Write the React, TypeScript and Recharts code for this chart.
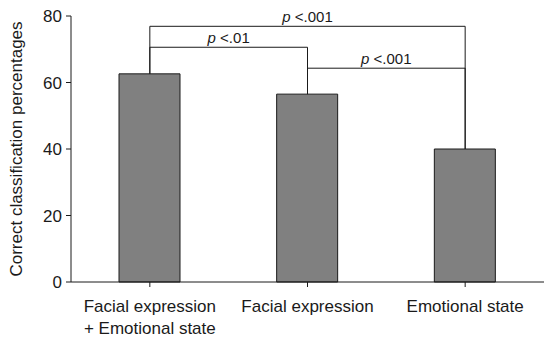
import { BarChart, Bar, XAxis, YAxis, ReferenceLine, Label } from "recharts";

const categories = ["Facial expression\n+ Emotional state", "Facial expression", "Emotional state"];
const percentages = [62.6, 56.5, 40.0];
const yTicks = [0, 20, 40, 60, 80];

// significance brackets: which bars they join, how high, and the p value
const bracketFrom = [0, 0, 1];
const bracketTo = [2, 1, 2];
const bracketLevel = [76.9, 70.6, 64.3];
const bracketText = ["<.001", "<.01", "<.001"];

const data = categories.map((name, i) => ({ name, value: percentages[i] }));

const FONT = "'Liberation Sans', Arial, sans-serif";
const INK = "#1a1a1a";

const CategoryTick = ({ x, y, payload }: any) => {
    const lines = String(payload.value).split("\n");
    return (
        <text x={x} y={y} textAnchor="middle" fontSize={17} fill={INK} fontFamily={FONT}>
            {lines.map((l, i) => (
                <tspan key={i} x={x} dy={i === 0 ? 11 : 21.5}>
                    {l}
                </tspan>
            ))}
        </text>
    );
};

const PLabel = ({ viewBox, text }: any) => {
    const vb = viewBox || {};
    const cx = vb.x1 !== undefined ? (vb.x1 + vb.x2) / 2 : vb.x + vb.width / 2;
    const y = vb.y1 !== undefined ? Math.min(vb.y1, vb.y2) : vb.y;
    return (
        <text x={cx} y={y - 4.5} textAnchor="middle" fontSize={15} fill={INK} fontFamily={FONT}>
            <tspan fontStyle="italic">p</tspan>
            <tspan> {text}</tspan>
        </text>
    );
};

const YTitle = ({ viewBox }: any) => {
    const cy = viewBox.y + viewBox.height / 2;
    const x = 22;
    return (
        <text
            x={x}
            y={cy}
            transform={`rotate(-90, ${x}, ${cy})`}
            textAnchor="middle"
            fontSize={17}
            fill={INK}
            fontFamily={FONT}
        >
            Correct classification percentages
        </text>
    );
};

export default function App() {
    return (
        <div style={{ position: "absolute", left: 0, top: 0, background: "#fff" }}>
            <BarChart
                width={544}
                height={338}
                data={data}
                margin={{ top: 16, right: 0, left: 0, bottom: 0 }}
            >
                <XAxis
                    dataKey="name"
                    height={56}
                    tick={<CategoryTick />}
                    tickSize={5}
                    tickMargin={14}
                    interval={0}
                    stroke={INK}
                />
                <YAxis
                    width={71}
                    domain={[0, 80]}
                    ticks={yTicks}
                    tickSize={5}
                    tickMargin={4}
                    stroke={INK}
                    tick={{ fill: INK, fontSize: 17, fontFamily: FONT }}
                >
                    <Label content={<YTitle />} />
                </YAxis>
                <Bar
                    dataKey="value"
                    fill="#808080"
                    stroke={INK}
                    strokeWidth={1}
                    barSize={61}
                    isAnimationActive={false}
                />
                {bracketLevel.map((level, i) => {
                    const a = categories[bracketFrom[i]];
                    const b = categories[bracketTo[i]];
                    return [
                        <ReferenceLine
                            key={`top${i}`}
                            segment={[{ x: a, y: level }, { x: b, y: level }]}
                            stroke={INK}
                            strokeWidth={1}
                            label={<PLabel text={bracketText[i]} />}
                        />,
                        <ReferenceLine
                            key={`l${i}`}
                            segment={[{ x: a, y: percentages[bracketFrom[i]] }, { x: a, y: level }]}
                            stroke={INK}
                            strokeWidth={1}
                        />,
                        <ReferenceLine
                            key={`r${i}`}
                            segment={[{ x: b, y: percentages[bracketTo[i]] }, { x: b, y: level }]}
                            stroke={INK}
                            strokeWidth={1}
                        />,
                    ];
                })}
            </BarChart>
        </div>
    );
}
